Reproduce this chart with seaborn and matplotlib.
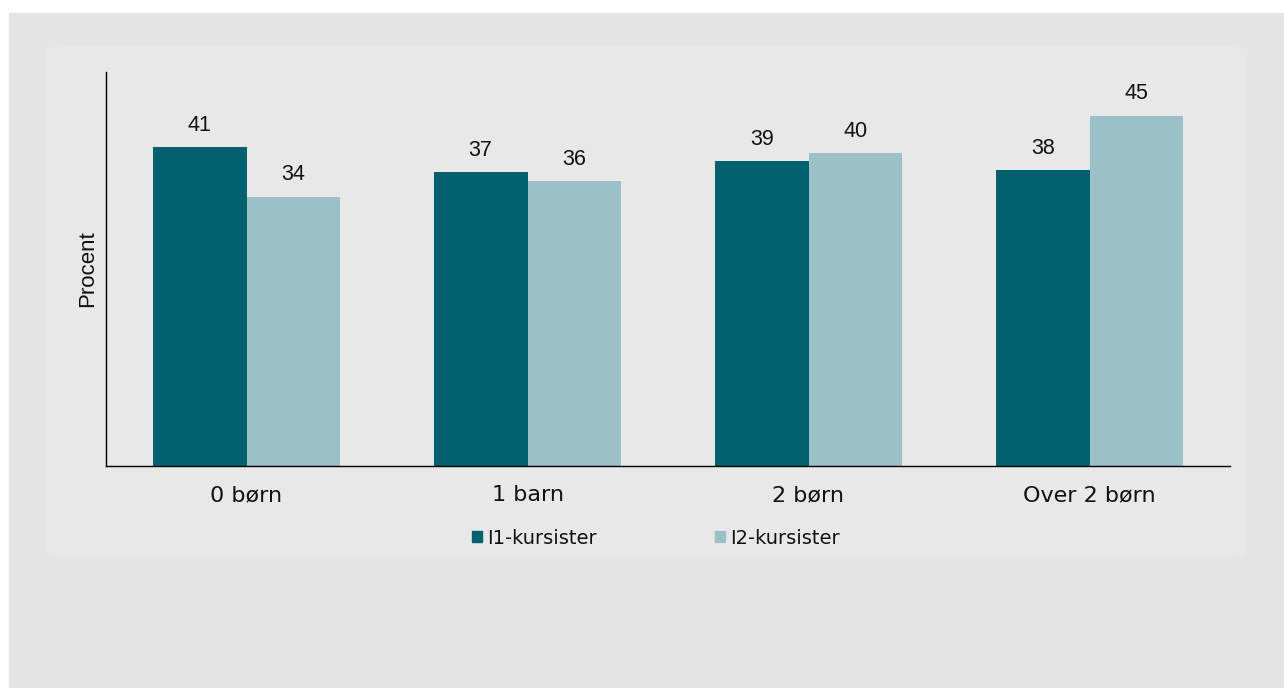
import matplotlib
matplotlib.use("Agg")
import matplotlib.pyplot as plt
import matplotlib.patches as mpatches
import pandas as pd
import seaborn as sns

# Data (bar heights, labels as printed)
categories = ["0 børn", "1 barn", "2 børn", "Over 2 børn"]
i1_values = [41.0, 37.7, 39.2, 38.0]
i2_values = [34.6, 36.6, 40.2, 45.0]
i1_labels = [41, 37, 39, 38]
i2_labels = [34, 36, 40, 45]
series = ["I1-kursister", "I2-kursister"]
colors = ["#03606f", "#9bc0c8"]

df = pd.DataFrame({
    "Kategori": categories * 2,
    "Procent": i1_values + i2_values,
    "Gruppe": [series[0]] * 4 + [series[1]] * 4,
})

sns.set_style("white")
fig = plt.figure(figsize=(12.84, 6.88), dpi=100)
fig.patch.set_facecolor("white")

# Background panels
fig.patches.append(mpatches.Rectangle((9 / 1284, 0), 1 - 9 / 1284, 1 - 13 / 688,
                                      transform=fig.transFigure, color="#e5e5e5", zorder=-2))
fig.patches.append(mpatches.FancyBboxPatch((46 / 1284, 1 - 556 / 688), (1245 - 46) / 1284, (556 - 47) / 688,
                                           boxstyle="round,pad=0,rounding_size=0.01",
                                           transform=fig.transFigure, color="#e8e8e8", zorder=-1))

ax = fig.add_axes([106 / 1284, 1 - 466 / 688, (1230 - 106) / 1284, (466 - 72) / 688])
ax.set_facecolor("none")

sns.barplot(data=df, x="Kategori", y="Procent", hue="Gruppe", palette=colors,
            width=0.667, saturation=1, linewidth=0, ax=ax, legend=False)

for container, labels in zip(ax.containers, [i1_labels, i2_labels]):
    ax.bar_label(container, labels=[str(v) for v in labels], padding=8,
                 fontsize=15.5, family="Liberation Sans", color="#111111")

ax.set_ylim(0, 50.6)
ax.set_xlim(-0.5, 3.5)
ax.set_yticks([])
ax.set_xlabel("")
ax.set_ylabel("Procent", fontsize=16, family="Liberation Sans", labelpad=6, color="#111111")
ax.tick_params(axis="x", length=0, labelsize=16, pad=14, colors="#111111")
for s in ["top", "right"]:
    ax.spines[s].set_visible(False)
for s in ["left", "bottom"]:
    ax.spines[s].set_color("black")
    ax.spines[s].set_linewidth(1.0)

handles = [mpatches.Patch(color=c, label=l) for c, l in zip(colors, series)]
fig.legend(handles=handles, loc="center", bbox_to_anchor=(656 / 1284, 1 - 538 / 688), ncol=2,
           frameon=False, fontsize=14, handlelength=0.52, handleheight=0.52, handletextpad=0.25,
           columnspacing=6.1, labelcolor="#111111")

fig.savefig("out.png", dpi=100)
